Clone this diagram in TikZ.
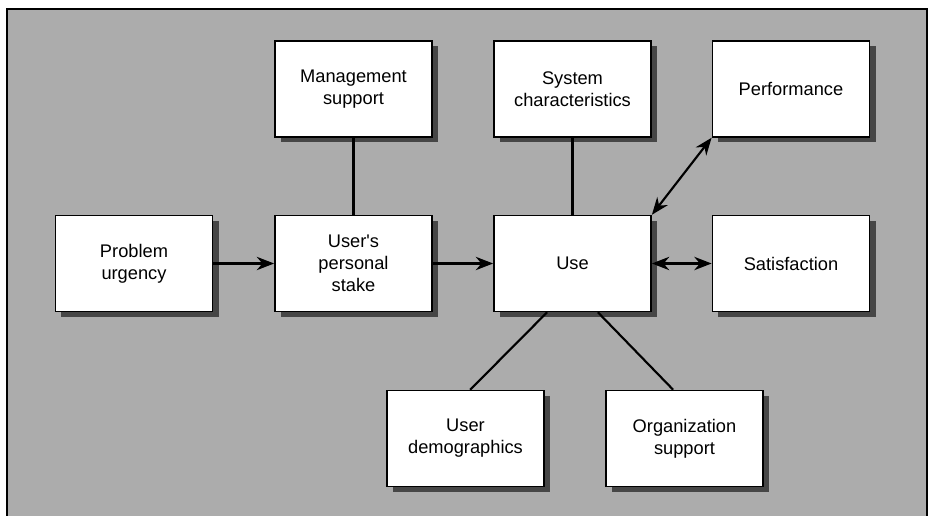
\documentclass[tikz,border=0pt]{standalone}
\usepackage{fontspec}
\setmainfont{Liberation Sans}
\usetikzlibrary{arrows.meta,shadows,calc}
\definecolor{bggray}{RGB}{172,172,172}
\definecolor{shadowgray}{RGB}{70,70,70}
\begin{document}
\begin{tikzpicture}[x=0.75pt,y=-0.75pt,
  box/.style={draw=black, line width=1.1pt, fill=white, minimum width=118pt, minimum height=72pt,
    align=center, inner sep=2pt, font=\fontsize{13.7}{16.5}\selectfont,
    drop shadow={shadow xshift=4.5pt, shadow yshift=-4pt, fill=shadowgray, opacity=1}},
  link/.style={line width=1.6pt, black},
  arr/.style={link, -{Stealth[length=13pt,width=10pt]}},
  darr/.style={link, {Stealth[length=13pt,width=10pt]}-{Stealth[length=13pt,width=10pt]}}]
\useasboundingbox (0,0) rectangle (930,516);
\fill[bggray] (7,9) rectangle (927,516);
\draw[line width=1.2pt] (7,516) -- (7,9) -- (927,9) -- (927,516);

\node[box] (mgmt) at (353.5,89) {Management\\support};
\node[box] (sys) at (572.5,89) {System\\characteristics};
\node[box] (perf) at (791,89) {Performance};
\node[box] (prob) at (134,263.5) {Problem\\urgency};
\node[box] (stake) at (353.5,263.5) {User\textquotesingle s\\personal\\stake};
\node[box] (use) at (572.5,263.5) {Use};
\node[box] (sat) at (791,263.5) {Satisfaction};
\node[box] (demo) at (465.5,438.5) {User\\demographics};
\node[box] (org) at (684.5,438.5) {Organization\\support};

\draw[link] (mgmt.south) -- (stake.north);
\draw[link] (sys.south) -- (use.north);
\draw[arr] (prob.east) -- (stake.west);
\draw[arr] (stake.east) -- (use.west);
\draw[darr] (use.north east) -- (perf.south west);
\draw[darr] (use.east) -- (sat.west);
\draw[link] ($(use.south)+(-19pt,0)$) -- ($(demo.north)+(3.5pt,0)$);
\draw[link] ($(use.south)+(19pt,0)$) -- ($(org.north)+(-8.5pt,0)$);
\end{tikzpicture}
\end{document}
